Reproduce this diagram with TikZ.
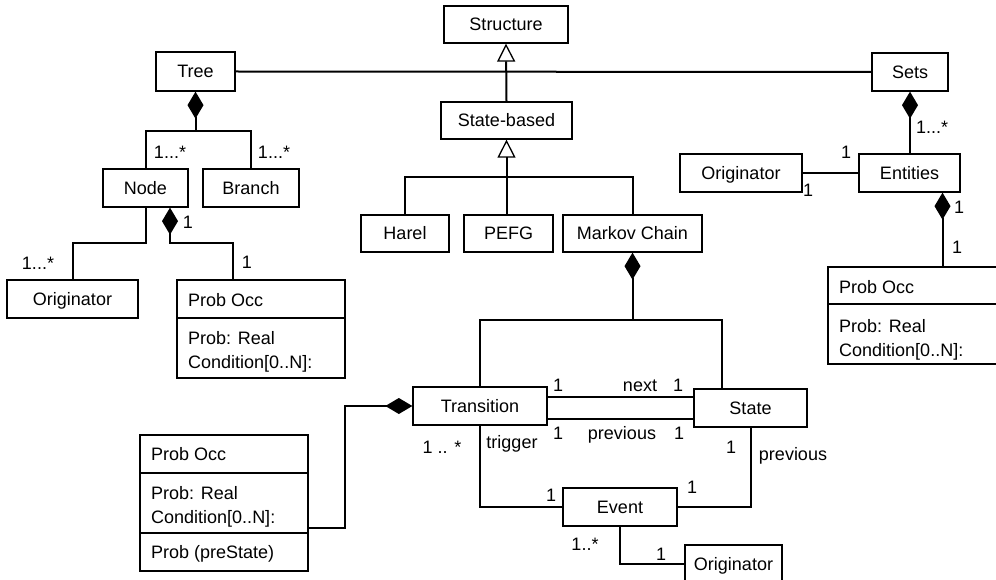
\documentclass[tikz,border=0pt]{standalone}
\usepackage{fontspec}
\setmainfont{Liberation Sans}
\usetikzlibrary{arrows.meta}
\begin{document}
\begin{tikzpicture}[x=1pt,y=-1pt,
  font=\fontsize{18}{21}\selectfont,
  box/.style={draw, line width=1.3pt, inner sep=0pt, text height=13pt, text depth=0pt},
  conn/.style={line width=2pt},
  comp/.style={conn, {Diamond[length=27pt,width=16pt]}-},
  gen/.style={conn, -{Triangle[open,length=18pt,width=18pt,line width=1.3pt]}},
  lbl/.style={inner sep=0pt, text height=13pt, text depth=0pt},
  attr/.style={lbl, anchor=west},
  divider/.style={line width=1.3pt}
]
\useasboundingbox (0,0) rectangle (996,580);
\clip (0,0) rectangle (996,580);
\fill[white] (0,0) rectangle (996,580);

% boxes
\node[box, minimum width=124pt, minimum height=37pt] (Structure) at (506,24.5) {Structure};
\node[box, minimum width=79pt, minimum height=39pt] (Tree) at (195.5,71.5) {Tree};
\node[box, minimum width=76pt, minimum height=38pt] (Sets) at (910,72) {Sets};
\node[box, minimum width=131pt, minimum height=37pt] (SB) at (506.5,120.5) {State-based};
\node[box, minimum width=85pt, minimum height=38pt] (Node) at (145.5,188) {Node};
\node[box, minimum width=96pt, minimum height=38pt] (Branch) at (251,188) {Branch};
\node[box, minimum width=122pt, minimum height=38pt] (OrigM) at (741,173) {Originator};
\node[box, minimum width=101pt, minimum height=38pt] (Entities) at (909.5,173) {Entities};
\node[box, minimum width=88pt, minimum height=37pt] (Harel) at (405,233.5) {Harel};
\node[box, minimum width=89pt, minimum height=37pt] (PEFG) at (508.5,233.5) {PEFG};
\node[box, minimum width=139pt, minimum height=37pt] (Markov) at (632.5,233.5) {Markov Chain};
\node[box, minimum width=131pt, minimum height=38pt] (OrigL) at (72.5,299) {Originator};
\node[box, minimum width=134pt, minimum height=38pt] (Transition) at (480,406) {Transition};
\node[box, minimum width=113pt, minimum height=38pt] (State) at (750.5,408) {State};
\node[box, minimum width=114pt, minimum height=38pt] (Event) at (620,507) {Event};
\node[box, minimum width=97pt, minimum height=38pt] (OrigB) at (733.5,564) {Originator};

% compartment boxes
\node[box, minimum width=168pt, minimum height=98pt] (ProbL) at (261,329) {};
\draw[divider] (ProbL.west |- 0,318) -- (ProbL.east |- 0,318);
\node[attr] (pl1) at (188,300) {Prob Occ};
\node[attr] (pl2) at (188,338) {Prob: Real};
\node[attr] (pl3) at (188,362) {Condition[0..N]:};

\node[box, minimum width=230pt, minimum height=97pt] (ProbR) at (943,315.5) {};
\draw[divider] (ProbR.west |- 0,304) -- (ProbR.east |- 0,304);
\node[attr] (pr1) at (839,287) {Prob Occ};
\node[attr] (pr2) at (839,326) {Prob: Real};
\node[attr] (pr3) at (839,350) {Condition[0..N]:};

\node[box, minimum width=168pt, minimum height=136pt] (ProbB) at (224,503) {};
\draw[divider] (ProbB.west |- 0,473) -- (ProbB.east |- 0,473);
\draw[divider] (ProbB.west |- 0,533) -- (ProbB.east |- 0,533);
\node[attr] (pb1) at (151,454) {Prob Occ};
\node[attr] (pb2) at (151,493) {Prob: Real};
\node[attr] (pb3) at (151,517) {Condition[0..N]:};
\node[attr] (pb4) at (151,552) {Prob (preState)};

% connectors
\draw[conn] (Tree.east) -- (Sets.west);
\draw[gen] (SB.north) -- (Structure.south);

\coordinate (tj) at (195.5,131);
\draw[comp] (Tree.south) -- (tj) -| (Node.north);
\draw[conn] (tj) -| (Branch.north);

\coordinate (nl) at (145.5,243);
\coordinate (nr) at (170,243);
\draw[conn] (Node.south) -- (nl) -| (OrigL.north);
\draw[comp] (Node.south -| nr) -- (nr) -| ([xshift=-28pt]ProbL.north);

\coordinate (sbj) at (506.5,177);
\draw[gen] (sbj) -- (SB.south);
\draw[conn] (Harel.north) |- (sbj);
\draw[conn] (Markov.north) |- (sbj);
\draw[conn] (sbj) -- (sbj |- PEFG.north);

\draw[comp] (Sets.south) -- (Sets.south |- Entities.north);
\draw[conn] (OrigM.east) -- (Entities.west);
\coordinate (ej) at (942.5,0);
\draw[comp] (Entities.south -| ej) -- (ProbR.north -| ej);

\coordinate (mj) at (632.5,320);
\draw[comp] (Markov.south) -- (mj);
\draw[conn] (Transition.north) |- (mj) -| ([xshift=-28.5pt]State.north);

\draw[conn] ([yshift=9pt]Transition.east) -- ([yshift=9pt]Transition.east -| State.west);
\draw[conn] ([yshift=-12.5pt]Transition.east) -- ([yshift=-12.5pt]Transition.east -| State.west);

\draw[comp] (Transition.west) -- ++(-67,0) |- ([yshift=-25pt]ProbB.east);
\draw[conn] (Transition.south) |- (Event.west);
\draw[conn] (State.south) |- (Event.east);
\draw[conn] (Event.south) |- (OrigB.west);

% labels
\node[lbl] (m1) at (170,152) {1...*};
\node[lbl] (m2) at (274,152) {1...*};
\node[lbl] (m3) at (188,222) {1};
\node[lbl] (m4) at (38,263) {1...*};
\node[lbl] (m5) at (247,262) {1};
\node[lbl] (m6) at (932,127) {1...*};
\node[lbl] (m7) at (846,152) {1};
\node[lbl] (m8) at (808,190) {1};
\node[lbl] (m9) at (959,207) {1};
\node[lbl] (m10) at (957,247) {1};
\node[lbl] (m11) at (558,385) {1};
\node[lbl] (m12) at (640,385) {next};
\node[lbl] (m13) at (678,385) {1};
\node[lbl] (m14) at (558,433) {1};
\node[lbl] (m15) at (622,433) {previous};
\node[lbl] (m16) at (679,433) {1};
\node[lbl] (m17) at (442,447) {1 .. *};
\node[lbl] (m18) at (512,442) {trigger};
\node[lbl] (m19) at (731,447) {1};
\node[lbl] (m20) at (793,454) {previous};
\node[lbl] (m21) at (551,495) {1};
\node[lbl] (m22) at (692,487) {1};
\node[lbl] (m23) at (585,544) {1..*};
\node[lbl] (m24) at (661,554) {1};
\end{tikzpicture}
\end{document}
